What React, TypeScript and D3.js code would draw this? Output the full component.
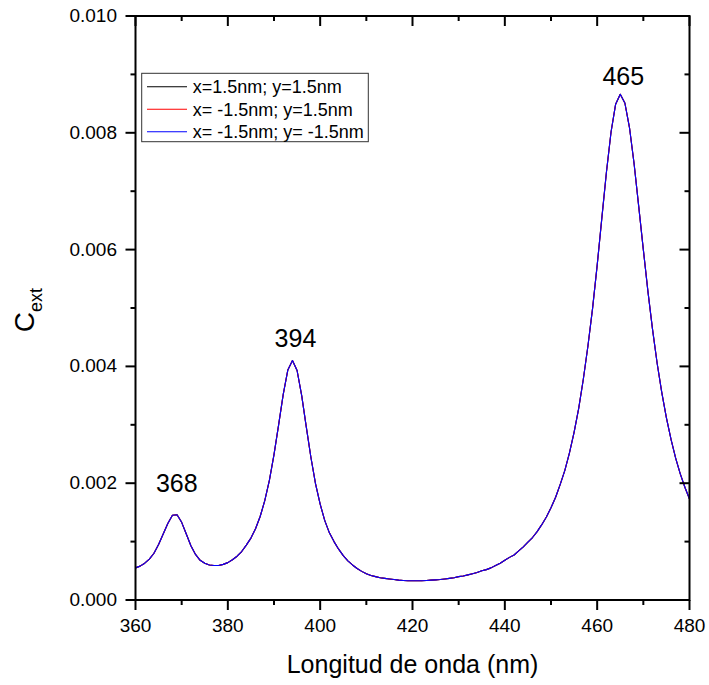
import React from "react";
import * as d3 from "d3";

// ---- data ----
const wavelengths: number[] = [
  360, 361, 362, 363, 364, 365, 366, 367, 368, 369,
  370, 371, 372, 373, 374, 375, 376, 377, 378, 379,
  380, 381, 382, 383, 384, 385, 386, 387, 388, 389,
  390, 391, 392, 393, 394, 395, 396, 397, 398, 399,
  400, 401, 402, 403, 404, 405, 406, 407, 408, 409,
  410, 411, 412, 413, 414, 415, 416, 417, 418, 419,
  420, 421, 422, 423, 424, 425, 426, 427, 428, 429,
  430, 431, 432, 433, 434, 435, 436, 437, 438, 439,
  440, 441, 442, 443, 444, 445, 446, 447, 448, 449,
  450, 451, 452, 453, 454, 455, 456, 457, 458, 459,
  460, 461, 462, 463, 464, 465, 466, 467, 468, 469,
  470, 471, 472, 473, 474, 475, 476, 477, 478, 479,
  480,
];

const cextValues: number[] = [
  0.00055, 0.00058, 0.00063, 0.0007, 0.0008, 0.00095, 0.00113, 0.00131, 0.00145, 0.00146,
  0.00133, 0.00113, 0.00093, 0.00078, 0.00068, 0.00063, 0.0006, 0.00059, 0.00059, 0.00061,
  0.00064, 0.00069, 0.00075, 0.00083, 0.00094, 0.00106, 0.00122, 0.00143, 0.0017, 0.00205,
  0.00249, 0.003, 0.00352, 0.00394, 0.0041, 0.00393, 0.0035, 0.00296, 0.00244, 0.00199,
  0.00164, 0.00136, 0.00115, 0.001, 0.00087, 0.00076, 0.00067, 0.0006, 0.00054, 0.00049,
  0.00045, 0.00042, 0.0004, 0.00038, 0.00037, 0.00036, 0.00035, 0.00034, 0.000335, 0.00033,
  0.00033, 0.00033, 0.00033, 0.000335, 0.00034, 0.000345, 0.00035, 0.00036, 0.00037, 0.00038,
  0.0004, 0.00041, 0.00043, 0.00045, 0.00047, 0.0005, 0.00052, 0.00055, 0.00059, 0.00063,
  0.00068, 0.00073, 0.00077, 0.00084, 0.00091, 0.00099, 0.00107, 0.00117, 0.00129, 0.00142,
  0.00158, 0.00176, 0.00198, 0.00222, 0.00252, 0.00287, 0.00328, 0.00378, 0.00435, 0.00499,
  0.00573, 0.00653, 0.00732, 0.00801, 0.00849, 0.00866, 0.00851, 0.00809, 0.00747, 0.00674,
  0.006, 0.00528, 0.00463, 0.00405, 0.00355, 0.00312, 0.00275, 0.00243, 0.00216, 0.00193,
  0.00173,
];

const seriesNames: string[] = [
  "x=1.5nm; y=1.5nm",
  "x= -1.5nm; y=1.5nm",
  "x= -1.5nm; y= -1.5nm",
];
const seriesColors: string[] = ["#000000", "#ff0000", "#0000ff"];

const xMajorTicks: number[] = [360, 380, 400, 420, 440, 460, 480];
const xMinorTicks: number[] = [370, 390, 410, 430, 450, 470];
const yMajorTicks: number[] = [0, 0.002, 0.004, 0.006, 0.008, 0.01];
const yMinorTicks: number[] = [0.001, 0.003, 0.005, 0.007, 0.009];

const peakLabels: string[] = ["368", "394", "465"];
const peakPositions: number[] = [368.5, 394, 465];
const peakLabelValues: number[] = [0.00185, 0.00433, 0.00882];

const xTitle = "Longitud de onda (nm)";

// ---- layout ----
const W = 709;
const H = 685;
const L = 135.5;
const R = 689.5;
const T = 16;
const B = 600;
const FONT = "'Liberation Sans', Arial, Helvetica, sans-serif";

export default function App() {
  const x = d3.scaleLinear().domain([360, 480]).range([L, R]);
  const y = d3.scaleLinear().domain([0, 0.01]).range([B, T]);
  const pts: [number, number][] = wavelengths.map((w, i) => [w, cextValues[i]]);
  const line = d3
    .line<[number, number]>()
    .x((d) => x(d[0]))
    .y((d) => y(d[1]));
  const path = line(pts) || "";
  const fmt = d3.format(".3f");

  const legX = 141.7;
  const legY = 73.3;
  const legW = 226.6;
  const legH = 68.4;
  const rowY = [86.7, 109.2, 131.7];

  return (
    <svg
      width={W}
      height={H}
      style={{ position: "absolute", left: 0, top: 0, background: "#fff" }}
      fontFamily={FONT}
    >
      <rect x={0} y={0} width={W} height={H} fill="#fff" />
      {/* curves */}
      <g fill="none" strokeWidth={1.1}>
        {seriesColors.map((c, i) => (
          <path key={i} d={path} stroke={c} strokeLinejoin="round" />
        ))}
      </g>

      {/* frame */}
      <rect x={L} y={T} width={R - L} height={B - T} fill="none" stroke="#000" strokeWidth={2} />

      {/* bottom ticks (outward) and top ticks (inward) */}
      {xMajorTicks.map((t) => (
        <g key={"xM" + t}>
          <line x1={x(t)} x2={x(t)} y1={B} y2={B + 10} stroke="#000" strokeWidth={2} />
          <line x1={x(t)} x2={x(t)} y1={T} y2={T + 10} stroke="#000" strokeWidth={2} />
          <text x={x(t)} y={632} textAnchor="middle" fontSize={19} fill="#000">
            {t}
          </text>
        </g>
      ))}
      {xMinorTicks.map((t) => (
        <g key={"xm" + t}>
          <line x1={x(t)} x2={x(t)} y1={B} y2={B + 5} stroke="#000" strokeWidth={2} />
          <line x1={x(t)} x2={x(t)} y1={T} y2={T + 5} stroke="#000" strokeWidth={2} />
        </g>
      ))}

      {/* left ticks (outward) and right ticks (inward) */}
      {yMajorTicks.map((t) => (
        <g key={"yM" + t}>
          <line x1={L - 10} x2={L} y1={y(t)} y2={y(t)} stroke="#000" strokeWidth={2} />
          <line x1={R - 10} x2={R} y1={y(t)} y2={y(t)} stroke="#000" strokeWidth={2} />
          <text x={117} y={y(t) + 6} textAnchor="end" fontSize={19} fill="#000">
            {fmt(t)}
          </text>
        </g>
      ))}
      {yMinorTicks.map((t) => (
        <g key={"ym" + t}>
          <line x1={L - 5} x2={L} y1={y(t)} y2={y(t)} stroke="#000" strokeWidth={2} />
          <line x1={R - 5} x2={R} y1={y(t)} y2={y(t)} stroke="#000" strokeWidth={2} />
        </g>
      ))}

      {/* axis titles */}
      <text x={(L + R) / 2} y={673} textAnchor="middle" fontSize={25} fill="#000">
        {xTitle}
      </text>
      <text
        transform={`translate(33.5, ${(T + B) / 2 + 2}) rotate(-90)`}
        textAnchor="middle"
        fontSize={28}
        fill="#000"
      >
        <tspan>C</tspan>
        <tspan fontSize={18} dy={8}>
          ext
        </tspan>
      </text>

      {/* peak labels */}
      {peakLabels.map((s, i) => (
        <text
          key={s}
          x={x(peakPositions[i]) + (i === 0 ? 2 : 3)}
          y={y(peakLabelValues[i])}
          textAnchor="middle"
          fontSize={25}
          fill="#000"
        >
          {s}
        </text>
      ))}

      {/* legend */}
      <rect x={legX} y={legY} width={legW} height={legH} fill="#fff" stroke="#333" strokeWidth={1} />
      {seriesNames.map((n, i) => (
        <g key={n}>
          <line x1={147} x2={187} y1={rowY[i]} y2={rowY[i]} stroke={seriesColors[i]} strokeWidth={1.1} />
          <text x={192.7} y={rowY[i] + 6.3} fontSize={18} fill="#000">
            {n}
          </text>
        </g>
      ))}
    </svg>
  );
}
